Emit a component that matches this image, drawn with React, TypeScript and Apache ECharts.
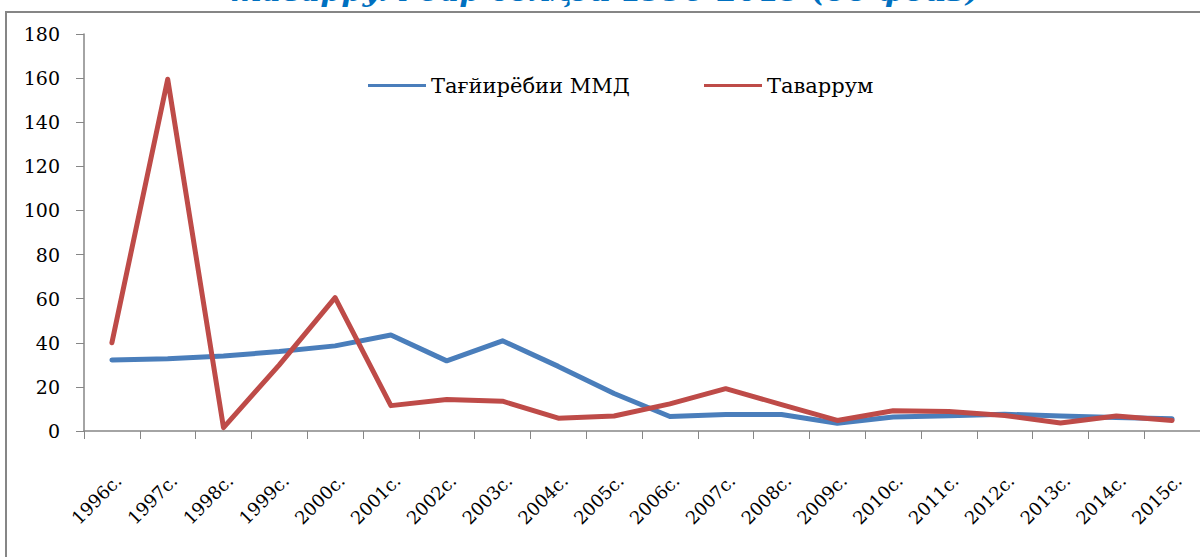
import React, { useEffect, useRef } from "react";
import * as echarts from "echarts";

const categories = [
  "1996с.", "1997с.", "1998с.", "1999с.", "2000с.", "2001с.", "2002с.", "2003с.", "2004с.", "2005с.",
  "2006с.", "2007с.", "2008с.", "2009с.", "2010с.", "2011с.", "2012с.", "2013с.", "2014с.", "2015с.",
];
const gdpChange = [32.2, 32.8, 34, 36, 38.6, 43.5, 31.8, 40.9, 29.3, 17, 6.6, 7.5, 7.5, 3.5, 6.3, 6.9, 7.6, 6.8, 6.1, 5.5];
const inflation = [40, 159.5, 1.5, 30, 60.5, 11.5, 14.3, 13.5, 5.8, 6.8, 12.3, 19.2, 12, 4.8, 9.2, 8.8, 7, 3.6, 6.8, 4.8];
const seriesNames = ["Тағйирёбии ММД", "Таваррум"];
const titleLine = "таваррум дар солҳои 1996-2015 (бо фоиз)";

const FONT = "'DejaVu Serif', serif";
const BLUE = "#4A7EBB";
const RED = "#BE4B48";
const GREY = "#868686";

export default function App() {
  const ref = useRef<HTMLDivElement>(null);
  useEffect(() => {
    if (!ref.current) return;
    const chart = echarts.init(ref.current, undefined, { renderer: "svg" });
    const legendBase = {
      top: 70,
      icon: "rect",
      itemWidth: 58,
      itemHeight: 3,
      itemGap: 6,
      textStyle: { fontFamily: FONT, fontSize: 21, color: "#000" },
    };
    chart.setOption({
      animation: false,
      backgroundColor: "#ffffff",
      grid: { left: 84, top: 34, width: 1120, height: 397, containLabel: false },
      legend: [
        { ...legendBase, data: [seriesNames[0]], left: 363 },
        { ...legendBase, data: [seriesNames[1]], left: 699 },
      ],
      xAxis: {
        type: "category",
        data: categories,
        boundaryGap: true,
        axisLine: { lineStyle: { color: GREY, width: 1.5 } },
        axisTick: { show: true, length: 8, alignWithLabel: false, lineStyle: { color: GREY } },
        axisLabel: {
          interval: 0,
          rotate: 45,
          margin: 40,
          align: "right",
          verticalAlign: "top",
          fontFamily: FONT,
          fontSize: 18,
          color: "#000",
        },
        splitLine: { show: false },
      },
      yAxis: {
        type: "value",
        min: 0,
        max: 180,
        interval: 20,
        axisLine: { show: true, lineStyle: { color: GREY, width: 1.5 } },
        axisTick: { show: true, length: 8, lineStyle: { color: GREY } },
        axisLabel: { margin: 24, fontFamily: FONT, fontSize: 19, color: "#000" },
        splitLine: { show: false },
      },
      series: [
        {
          name: seriesNames[0],
          type: "line",
          data: gdpChange,
          showSymbol: false,
          symbol: "none",
          itemStyle: { color: BLUE },
          lineStyle: { color: BLUE, width: 5, cap: "round", join: "round" },
        },
        {
          name: seriesNames[1],
          type: "line",
          data: inflation,
          showSymbol: false,
          symbol: "none",
          itemStyle: { color: RED },
          lineStyle: { color: RED, width: 5, cap: "round", join: "round" },
        },
      ],
      graphic: [
        {
          type: "rect",
          shape: { x: 6, y: 12, width: 1400, height: 800 },
          style: { fill: "none", stroke: GREY, lineWidth: 2 },
          silent: true,
        },
        {
          type: "text",
          x: 605,
          y: 5,
          style: {
            text: titleLine,
            fontFamily: FONT,
            fontSize: 30,
            fontWeight: "bold",
            fontStyle: "italic",
            fill: "#0070C0",
            align: "center",
            verticalAlign: "bottom",
          },
          silent: true,
        },
      ],
    });
    return () => chart.dispose();
  }, []);
  return (
    <div
      ref={ref}
      style={{ position: "fixed", left: 0, top: 0, width: 1200, height: 557 }}
    />
  );
}
